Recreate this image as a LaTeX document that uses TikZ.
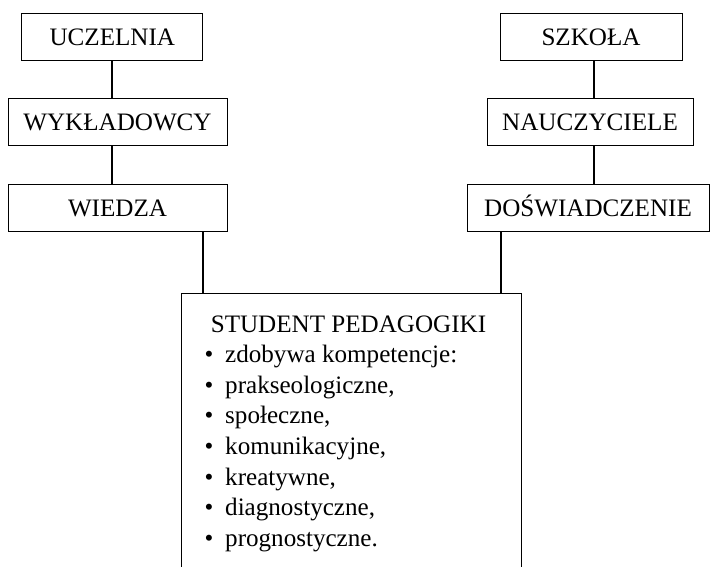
\documentclass[tikz,border=0pt]{standalone}
\usepackage{fontspec}
\setmainfont{Liberation Serif}
\begin{document}
\begin{tikzpicture}[x=1pt,y=-1pt,
  box/.style={draw,line width=0.9pt,minimum height=47pt,inner sep=0pt,text height=17pt,text depth=0pt,font=\fontsize{25.1}{30}\selectfont},
  conn/.style={line width=1.7pt},
  txt/.style={inner sep=0pt,font=\fontsize{25.1}{30}\selectfont}]
\useasboundingbox[fill=white] (0,0) rectangle (710,566);
\clip (0,0) rectangle (710,566);
\node[box,minimum width=181pt] (ucz) at (112.3,36.5) {UCZELNIA};
\node[box,minimum width=219pt] (wyk) at (117.5,121.5) {WYKŁADOWCY};
\node[box,minimum width=219pt] (wie) at (117.5,207.5) {WIEDZA};
\node[box,minimum width=182pt] (szk) at (591,36.5) {SZKOŁA};
\node[box,minimum width=206pt] (nau) at (590,121.5) {NAUCZYCIELE};
\node[box,minimum width=242pt] (dos) at (588,207.5) {DOŚWIADCZENIE};
\node[draw,line width=0.9pt,minimum width=340pt,minimum height=290pt,inner sep=0pt,anchor=north] (stu) at (351,292.7) {};
\node[txt,anchor=base] (title) at (348.5,332) {STUDENT PEDAGOGIKI};
\foreach \t [count=\i] in {zdobywa kompetencje:,prakseologiczne{,},społeczne{,},komunikacyjne{,},kreatywne{,},diagnostyczne{,},prognostyczne.}{
  \node[txt,anchor=base] (b\i) at (209,{362.3+30.7*(\i-1)}) {•};
  \node[txt,anchor=base west] (t\i) at (225,{362.3+30.7*(\i-1)}) {\t};
}
\coordinate (lx) at (112,0);
\coordinate (ly) at (203,0);
\coordinate (rx) at (594,0);
\coordinate (ry) at (501,0);
\draw[conn] (ucz.south -| lx) -- (wyk.north -| lx);
\draw[conn] (wyk.south -| lx) -- (wie.north -| lx);
\draw[conn] (wie.south -| ly) -- (stu.north -| ly);
\draw[conn] (szk.south -| rx) -- (nau.north -| rx);
\draw[conn] (nau.south -| rx) -- (dos.north -| rx);
\draw[conn] (dos.south -| ry) -- (stu.north -| ry);
\end{tikzpicture}
\end{document}
